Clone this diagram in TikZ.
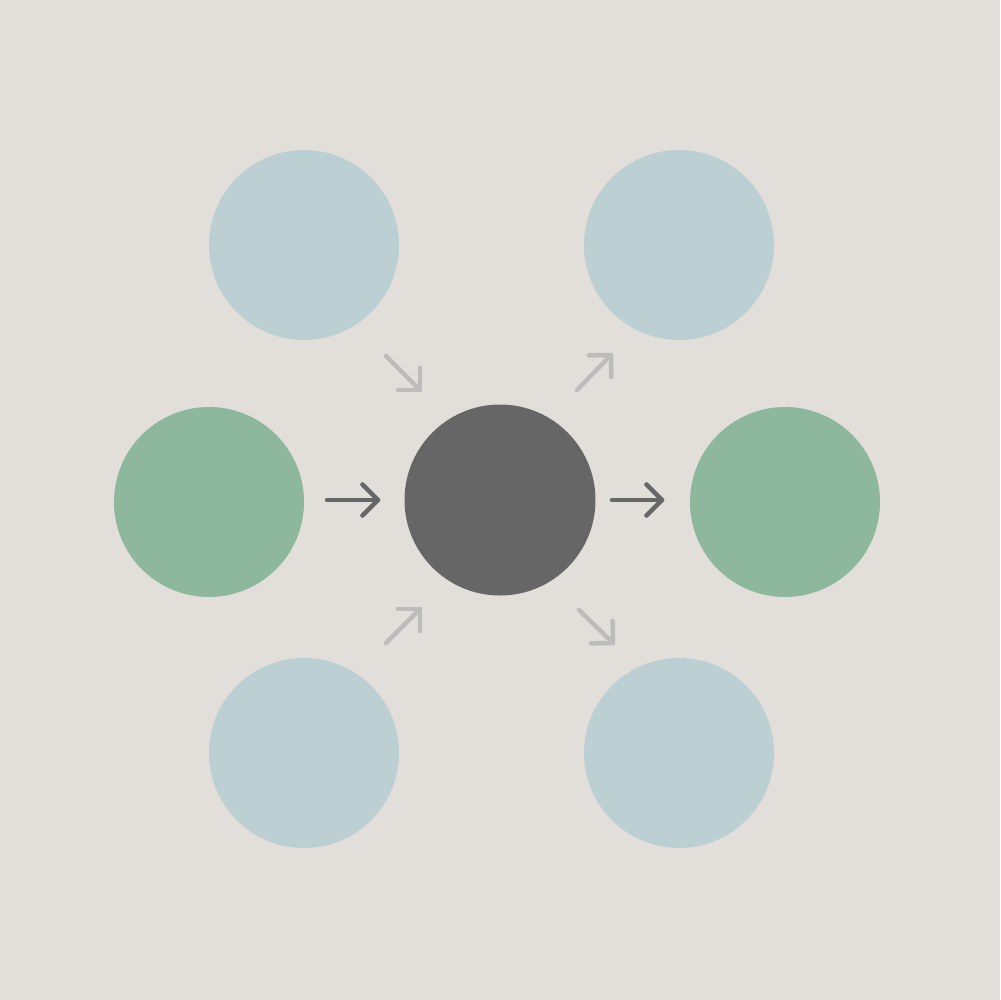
\documentclass[tikz,border=0pt]{standalone}
\usetikzlibrary{calc}
\definecolor{bgc}{HTML}{E2DEDA}
\definecolor{bluec}{HTML}{BCD0D3}
\definecolor{greenc}{HTML}{8DB89D}
\definecolor{darkc}{HTML}{666666}
\definecolor{lightarr}{HTML}{BDBCBA}
\begin{document}
\begin{tikzpicture}[x=0.1mm,y=-0.1mm,
  ball/.style={circle,inner sep=0pt,minimum size=19mm,draw=none},
  bluenode/.style={ball,fill=bluec},
  greennode/.style={ball,fill=greenc},
  hubnode/.style={ball,fill=darkc,minimum size=19.1mm},
  darr/.style={draw=darkc,line width=0.45mm,line cap=round,line join=round},
  larr/.style={draw=lightarr,line width=0.45mm,line cap=round,line join=round}]
\fill[bgc] (0,0) rectangle (1000,1000);
\useasboundingbox (0,0) rectangle (1000,1000);
\node[bluenode] (tl) at (304,245) {};
\node[bluenode] (tr) at (679,245) {};
\node[greennode] (l) at (209,502) {};
\node[hubnode] (c) at (500,500) {};
\node[greennode] (r) at (785,502) {};
\node[bluenode] (bl) at (304,753) {};
\node[bluenode] (br) at (679,753) {};
% arrow coordinates
\coordinate (a1s) at (327,500); \coordinate (a1t) at (378,500);
\coordinate (a2s) at (612,500); \coordinate (a2t) at (662,500);
\coordinate (a3s) at (386,356); \coordinate (a3t) at (420,390);
\coordinate (a4s) at (577,390); \coordinate (a4t) at (611,355);
\coordinate (a5s) at (386,643); \coordinate (a5t) at (420,609);
\coordinate (a6s) at (579,610); \coordinate (a6t) at (613,643);
\foreach \s/\t/\st in {a1s/a1t/darr,a2s/a2t/darr,a3s/a3t/larr,a4s/a4t/larr,a5s/a5t/larr,a6s/a6t/larr}{
  \draw[\st] (\s) -- (\t);
  \draw[\st] ($(\t)!2.2mm!45:(\s)$) -- (\t) -- ($(\t)!2.2mm!-45:(\s)$);
}
\end{tikzpicture}
\end{document}
